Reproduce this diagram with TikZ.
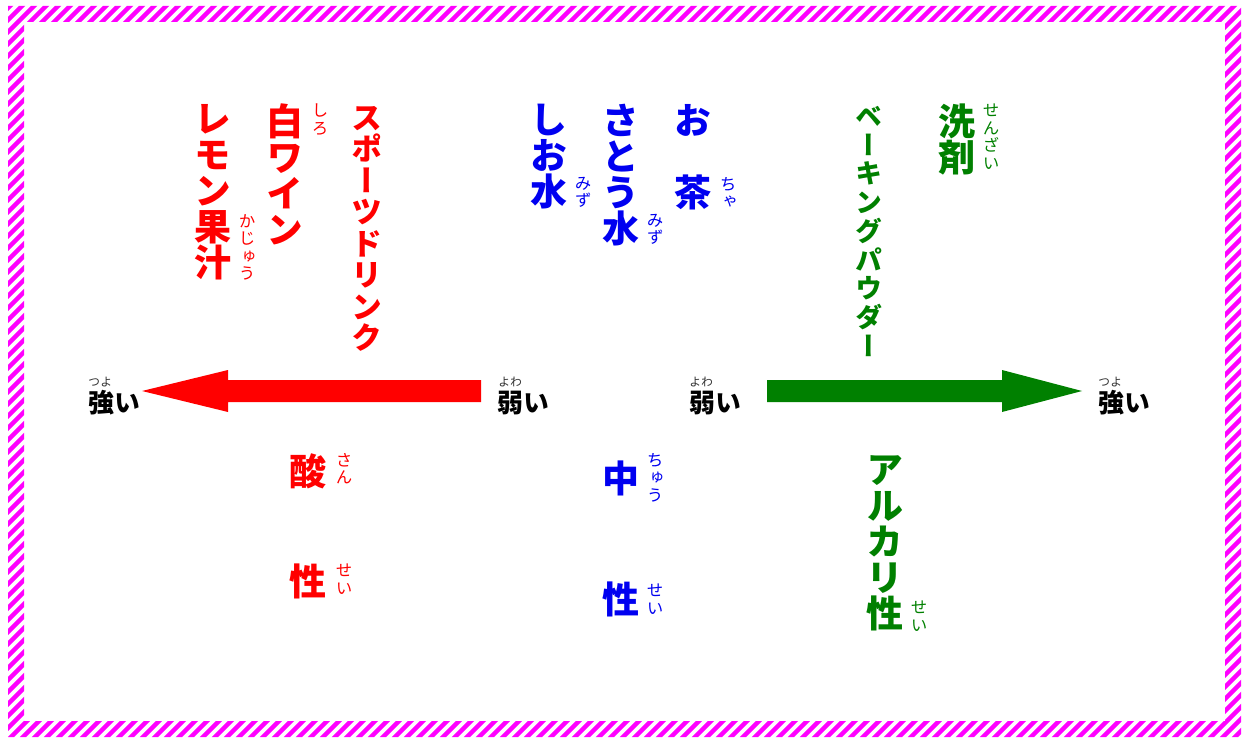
\documentclass[tikz,border=0pt]{standalone}
\usepackage{fontspec}
\newfontfamily\jp{Noto Sans CJK JP}[RawFeature=+vert]
\definecolor{jred}{RGB}{255,0,0}
\definecolor{jblue}{RGB}{0,0,240}
\definecolor{jgreen}{RGB}{0,128,0}
\definecolor{jmag}{RGB}{255,0,255}
\tikzset{
  vt/.style={inner sep=0pt, anchor=north, align=center, font=\jp\bfseries\fontsize{37}{36}\selectfont},
  vtm/.style={inner sep=0pt, anchor=north, align=center, font=\jp\bfseries\fontsize{31}{31.5}\selectfont},
  vts/.style={inner sep=0pt, anchor=north, align=center, font=\jp\bfseries\fontsize{27}{28.75}\selectfont},
  ruby/.style={inner sep=0pt, anchor=north, align=center, font=\jp\fontsize{16.5}{17.5}\selectfont},
  lbl/.style={inner sep=0pt, anchor=center, font=\jp\bfseries\fontsize{26}{28}\selectfont, text=black},
  lruby/.style={inner sep=0pt, anchor=center, font=\jp\fontsize{12}{13}\selectfont, text=black!80},
}
\begin{document}
\setlength{\lineskiplimit}{-50pt}
\begin{tikzpicture}[x=1pt,y=-1pt]
\useasboundingbox (0,0) rectangle (1247,738);
% striped frame
\begin{scope}[even odd rule]
  \clip (8,6) rectangle (1241,737) (24,22) rectangle (1225,721);
  \foreach \i in {-66,...,106}
    \draw[jmag, line width=4.4pt] (\i*12,760) -- ++(780,-780);
\end{scope}

% acid (red)
\node[vt, text=jred] (lemon) at (213,104) {レ\\モ\\ン\\果\\汁};
\node[ruby, text=jred] (lemonR) at (247,214) {か\\じ\\ゅ\\う};
\node[vt, text=jred] (wine) at (285,104) {白\\ワ\\イ\\ン};
\node[ruby, text=jred] (wineR) at (320,104) {し\\ろ};
\node[vtm, text=jred] (sports) at (367,106) {ス\\ポ\\ー\\ツ\\ド\\リ\\ン\\ク};

% neutral (blue)
\node[vt, text=jblue] (shio) at (549,104) {し\\お\\水};
\node[ruby, text=jblue] (shioR) at (583,177) {み\\ず};
\node[vt, text=jblue] (sato) at (621,104) {さ\\と\\う\\水};
\node[ruby, text=jblue] (satoR) at (655,214) {み\\ず};
\node[vt, text=jblue] (ocha) at (693,104) {お\\\mbox{}\\茶};
\node[ruby, text=jblue] (ochaR) at (728,177) {ち\\ゃ};

% alkali (green)
\node[vts, text=jgreen] (baking) at (869,106) {ベ\\ー\\キ\\ン\\グ\\パ\\ウ\\ダ\\ー};
\node[vt, text=jgreen] (senzai) at (957,104) {洗\\剤};
\node[ruby, text=jgreen] (senzaiR) at (991,104) {せ\\ん\\ざ\\い};

% arrows
\coordinate (rs) at (481,391);
\coordinate (re) at (142,391);
\coordinate (gs) at (767,391);
\coordinate (ge) at (1082,391);
\fill[jred] ([yshift=11pt]rs) -- ([xshift=86pt,yshift=11pt]re) -- ([xshift=86pt,yshift=21pt]re) -- (re)
  -- ([xshift=86pt,yshift=-21pt]re) -- ([xshift=86pt,yshift=-11pt]re) -- ([yshift=-11pt]rs) -- cycle;
\fill[jgreen] ([yshift=11pt]gs) -- ([xshift=-80pt,yshift=11pt]ge) -- ([xshift=-80pt,yshift=21pt]ge) -- (ge)
  -- ([xshift=-80pt,yshift=-21pt]ge) -- ([xshift=-80pt,yshift=-11pt]ge) -- ([yshift=-11pt]gs) -- cycle;

% strength labels
\node[lbl] (strongL) at (114,403) {強い};
\node[lruby] (strongLR) at (100,382) {つよ};
\node[lbl] (weakL) at (523,403) {弱い};
\node[lruby] (weakLR) at (510,382) {よわ};
\node[lbl] (weakR) at (715,403) {弱い};
\node[lruby] (weakRR) at (701,382) {よわ};
\node[lbl] (strongR) at (1124,403) {強い};
\node[lruby] (strongRR) at (1110,382) {つよ};

% category names
\node[vt, text=jred] (san) at (308,453) {酸};
\node[ruby, text=jred] (sanR) at (344,453) {さ\\ん};
\node[vt, text=jred] (seiA) at (308,564) {性};
\node[ruby, text=jred] (seiAR) at (344,564) {せ\\い};

\node[vt, text=jblue] (chu) at (621,461) {中};
\node[ruby, text=jblue] (chuR) at (655,453) {ち\\ゅ\\う};
\node[vt, text=jblue] (seiN) at (621,582) {性};
\node[ruby, text=jblue] (seiNR) at (655,584) {せ\\い};

\node[vt, text=jgreen] (alkali) at (885,455) {ア\\ル\\カ\\リ\\性};
\node[ruby, text=jgreen] (alkaliR) at (919,601) {せ\\い};
\end{tikzpicture}
\end{document}
